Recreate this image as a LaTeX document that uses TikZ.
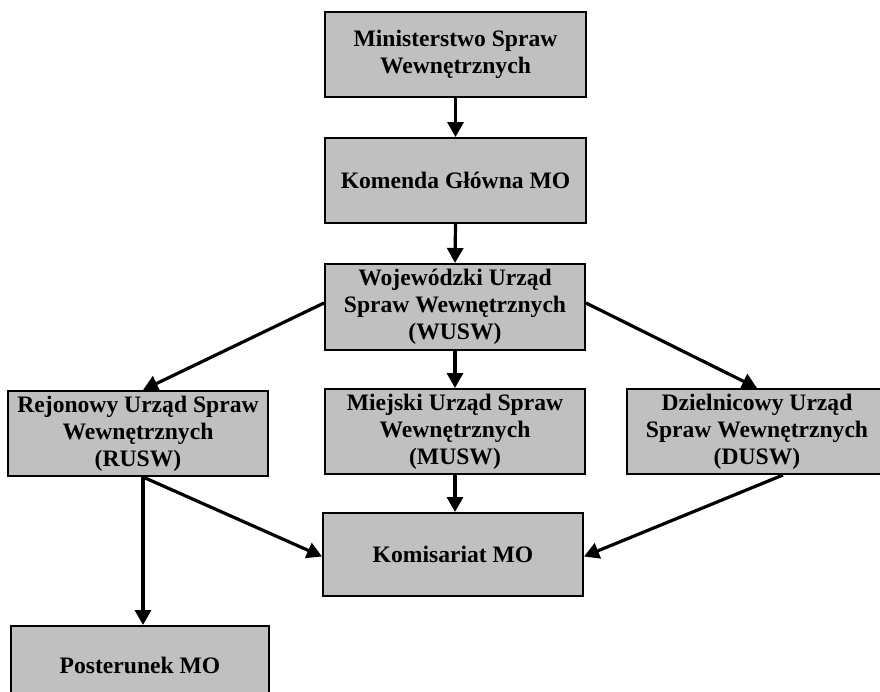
\documentclass[tikz,border=0pt]{standalone}
\usepackage{fontspec}
\setmainfont{Liberation Serif}
\usetikzlibrary{arrows.meta,calc}
\definecolor{boxgray}{RGB}{192,192,192}
\begin{document}
\begin{tikzpicture}[x=1pt,y=-1pt,
  box/.style={draw=black,line width=2pt,fill=boxgray,minimum width=260pt,minimum height=85pt,inner sep=0pt,align=center,font=\bfseries\fontsize{23.6}{27}\selectfont},
  arr/.style={line width=3.2pt,-{Triangle[length=15pt,width=16pt]}}]
\useasboundingbox (0,0) rectangle (880,691);
\node[box,minimum width=261pt] (msw) at (455.5,54.5) {Ministerstwo Spraw\\Wewnętrznych};
\node[box,minimum width=261pt] (kg) at (455.5,180.5) {Komenda Główna MO};
\node[box,minimum height=86pt] (wusw) at (455,307) {Wojewódzki Urząd\\Spraw Wewnętrznych\\(WUSW)};
\node[box] (rusw) at (138,433.5) {Rejonowy Urząd Spraw\\Wewnętrznych\\(RUSW)};
\node[box] (musw) at (455,431.5) {Miejski Urząd Spraw\\Wewnętrznych\\(MUSW)};
\node[box] (dusw) at (757,431.5) {Dzielnicowy Urząd\\Spraw Wewnętrznych\\(DUSW)};
\node[box,minimum height=83pt] (kom) at (453,554.5) {Komisariat MO};
\node[box,minimum width=258pt,minimum height=78pt] (post) at (140,665) {Posterunek MO};
\coordinate (rtop) at ($(rusw.north)+(5,0)$);
\coordinate (rbot) at ($(rusw.south)+(5,0)$);
\coordinate (dbot) at ($(dusw.south)+(26,0)$);
\draw[arr] (msw.south) -- (kg.north);
\draw[arr] (kg.south) -- (wusw.north);
\draw[arr] (wusw.south) -- (musw.north);
\draw[arr] ($(wusw.west)+(0,-4)$) -- (rtop);
\draw[arr] ($(wusw.east)+(0,-4)$) -- (dusw.north);
\draw[arr] (musw.south) -- (musw.south |- kom.north);
\draw[arr] (rbot) -- (rbot |- post.north);
\draw[arr] (rbot) -- ($(kom.west)+(0,2)$);
\draw[arr] (dbot) -- ($(kom.east)+(0,2)$);
\end{tikzpicture}
\end{document}
